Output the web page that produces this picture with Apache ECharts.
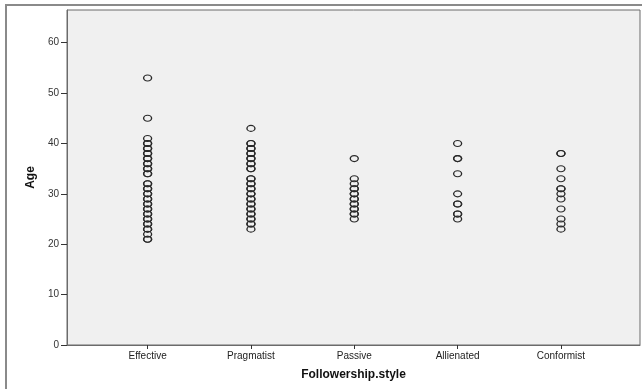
<!DOCTYPE html>
<html>
<head>
<meta charset="utf-8">
<script src="https://cdn.jsdelivr.net/npm/echarts@6/dist/echarts.min.js"></script>
<style>
html,body{margin:0;padding:0;background:#fff;}
#chart{width:642px;height:389px;}
</style>
</head>
<body>
<div id="chart"></div>
<script>
const categories = ['Effective', 'Pragmatist', 'Passive', 'Allienated', 'Conformist'];
const effectiveAges = [53, 45, 41, 40, 40, 39, 39, 38, 38, 37, 37, 36, 36, 35, 35, 34, 34, 32, 32, 31, 31, 30, 30, 29, 29, 28, 28, 27, 27, 26, 26, 25, 25, 24, 24, 23, 23, 22, 21, 21];
const pragmatistAges = [43, 40, 40, 39, 39, 38, 38, 37, 37, 36, 36, 35, 35, 33, 33, 32, 32, 31, 31, 30, 30, 29, 29, 28, 28, 27, 27, 26, 26, 25, 25, 24, 24, 23];
const passiveAges = [37, 33, 32, 31, 31, 30, 30, 29, 29, 28, 28, 27, 27, 26, 26, 25];
const allienatedAges = [40, 37, 37, 34, 30, 28, 28, 26, 26, 25];
const conformistAges = [38, 38, 35, 33, 31, 31, 30, 29, 27, 25, 24, 23];
const yTicks = [0, 10, 20, 30, 40, 50, 60];

const groups = [effectiveAges, pragmatistAges, passiveAges, allienatedAges, conformistAges];
const points = [];
groups.forEach((ages, i) => ages.forEach(a => points.push([i + 1, a])));
const catPositions = categories.map((c, i) => i + 1);

const chart = echarts.init(document.getElementById('chart'));
chart.setOption({
  animation: false,
  backgroundColor: '#ffffff',
  graphic: [{
    type: 'rect',
    silent: true,
    z: 100,
    shape: { x: 6, y: 5, width: 700, height: 500 },
    style: { fill: 'none', stroke: '#8a8a8a', lineWidth: 2 }
  }],
  grid: {
    left: 67, top: 10, right: 2, bottom: 44,
    show: true,
    backgroundColor: '#f0f0f0',
    borderColor: '#6b6b6b',
    borderWidth: 1
  },
  xAxis: {
    type: 'value',
    min: 0.22,
    max: 5.765,
    name: 'Followership.style',
    nameLocation: 'middle',
    nameGap: 24,
    nameTextStyle: { fontFamily: 'Liberation Sans', fontWeight: 'bold', fontSize: 12, color: '#111' },
    axisLine: { show: true, lineStyle: { color: '#6b6b6b', width: 1 } },
    axisTick: { show: true, length: 4, customValues: catPositions, lineStyle: { color: '#333' } },
    axisLabel: {
      customValues: catPositions,
      margin: 6,
      fontFamily: 'Liberation Sans',
      fontSize: 10,
      color: '#222',
      formatter: v => categories[Math.round(v) - 1] || ''
    },
    splitLine: { show: false }
  },
  yAxis: {
    type: 'value',
    min: 0,
    max: 66.5,
    name: 'Age',
    nameLocation: 'middle',
    nameGap: 26,
    nameRotate: 90,
    nameTextStyle: { fontFamily: 'Liberation Sans Narrow, Liberation Sans', fontWeight: 'bold', fontSize: 12, color: '#111' },
    axisLine: { show: true, lineStyle: { color: '#6b6b6b', width: 1 } },
    axisTick: { show: true, length: 6, customValues: yTicks, lineStyle: { color: '#333' } },
    axisLabel: {
      customValues: yTicks,
      margin: 8,
      fontFamily: 'Liberation Sans',
      fontSize: 10,
      color: '#333'
    },
    splitLine: { show: false }
  },
  series: [{
    type: 'scatter',
    data: points,
    symbol: 'circle',
    symbolSize: [8, 6],
    itemStyle: { color: 'rgba(0,0,0,0)', borderColor: '#2a2a2a', borderWidth: 1.2, opacity: 1 }
  }]
});
</script>
</body>
</html>
